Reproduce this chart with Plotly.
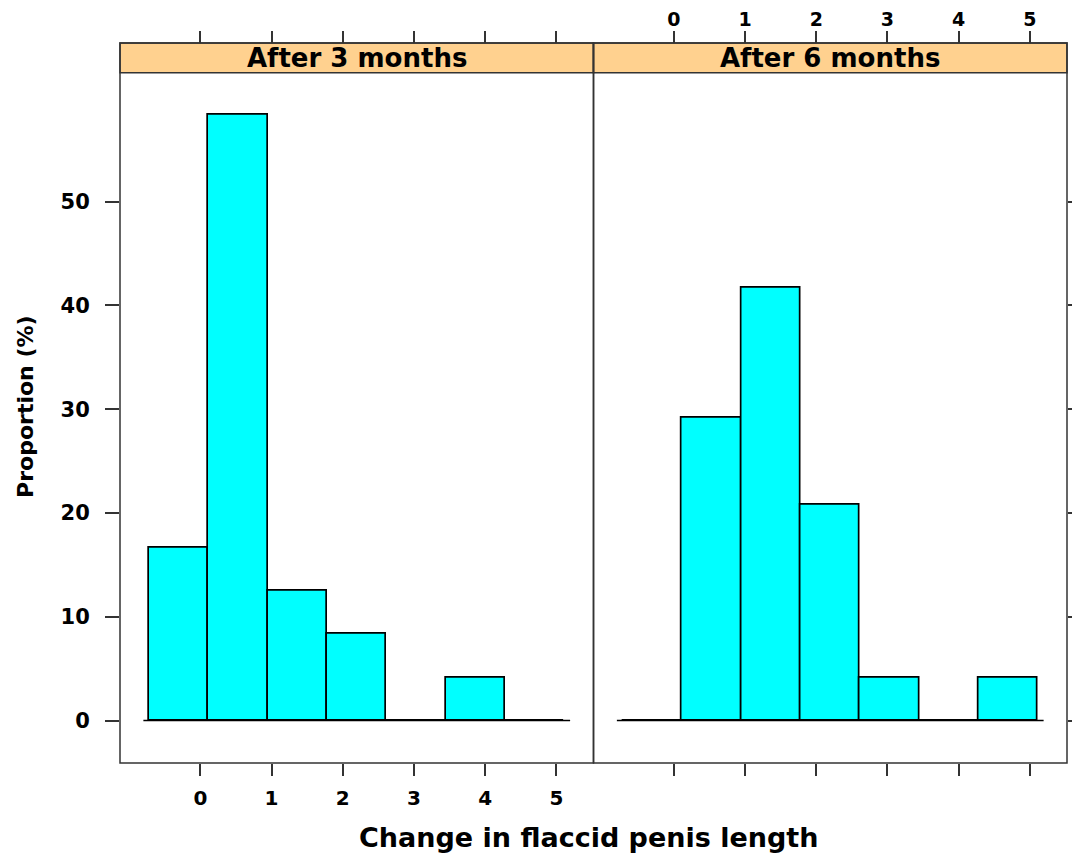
import plotly.graph_objects as go

# ---- data ----
panel_titles = ["After 3 months", "After 6 months"]
bin_edges = [-0.72, 0.113, 0.947, 1.78, 2.613, 3.447, 4.28, 5.113]
pct_3m = [16.67, 58.33, 12.5, 8.33, 0.0, 4.17, 0.0]
pct_6m = [0.0, 29.17, 41.67, 20.83, 4.17, 0.0, 4.17]
x_ticks = [0, 1, 2, 3, 4, 5]
y_ticks = [0, 10, 20, 30, 40, 50]
x_title = "Change in flaccid penis length"
y_title = "Proportion (%)"

# ---- styles ----
FONT = "DejaVu Sans"
BAR_FILL = "#00FFFF"
STRIP_FILL = "#FFD18F"
FRAME = "#333333"
# the page body adds an 8px offset, so the figure is 8px smaller
W, H = 1072, 847
ML, MR, MT, MB = 112, 13, 35, 92
PANEL_TOP = 0.9588     # top of panels (strip sits above)
BASE_PAD = 0.08

centers = [(a + b) / 2 for a, b in zip(bin_edges[:-1], bin_edges[1:])]
widths = [b - a for a, b in zip(bin_edges[:-1], bin_edges[1:])]
span = bin_edges[-1] - bin_edges[0]
x_range = [bin_edges[0] - 0.07 * span, bin_edges[-1] + 0.07 * span]
ymax = max(max(pct_3m), max(pct_6m))
y_range = [-0.07 * ymax, 1.07 * ymax]

fig = go.Figure()
for i, vals in enumerate([pct_3m, pct_6m]):
    xa = "x" if i == 0 else "x2"
    ya = "y" if i == 0 else "y2"
    fig.add_trace(go.Scatter(
        x=[bin_edges[0] - BASE_PAD, bin_edges[-1] + BASE_PAD], y=[0, 0],
        mode="lines", line=dict(color="black", width=1.5),
        xaxis=xa, yaxis=ya, hoverinfo="skip", showlegend=False))
    fig.add_trace(go.Bar(
        x=centers, y=vals, width=widths,
        marker=dict(color=BAR_FILL, line=dict(color="black", width=1.7)),
        xaxis=xa, yaxis=ya, showlegend=False))

# dummy traces so the top axes render
fig.add_trace(go.Scatter(x=[0], y=[0], xaxis="x3", yaxis="y", mode="markers",
                         marker=dict(opacity=0), hoverinfo="skip", showlegend=False))
fig.add_trace(go.Scatter(x=[0], y=[0], xaxis="x4", yaxis="y2", mode="markers",
                         marker=dict(opacity=0), hoverinfo="skip", showlegend=False))

xt_font = dict(family=FONT, size=20, color="black", weight="bold")
xt_top_font = dict(family=FONT, size=19, color="black", weight="bold")
yt_font = dict(family=FONT, size=21, color="black", weight="bold")
common_x = dict(range=x_range, tickvals=x_ticks, ticks="outside", ticklen=12,
                tickwidth=1.5, tickcolor=FRAME, showgrid=False, zeroline=False,
                showline=False, fixedrange=True, automargin=False)

fig.update_layout(
    width=W, height=H,
    margin=dict(l=ML, r=MR, t=MT, b=MB, autoexpand=False),
    paper_bgcolor="white", plot_bgcolor="white",
    barmode="overlay", bargap=0,
    showlegend=False,
    xaxis=dict(domain=[0, 0.5], anchor="y", showticklabels=True,
               ticklabelstandoff=5, tickfont=xt_font, **common_x),
    xaxis2=dict(domain=[0.5, 1], anchor="y2", showticklabels=False,
                tickfont=xt_font, **common_x),
    xaxis3=dict(overlaying="x", anchor="free", position=1, side="top",
                showticklabels=False, tickfont=xt_font, **common_x),
    xaxis4=dict(overlaying="x2", anchor="free", position=1, side="top",
                showticklabels=True, ticklabelstandoff=-3, tickfont=xt_top_font,
                **common_x),
    yaxis=dict(domain=[0, PANEL_TOP], anchor="x", range=y_range, tickvals=y_ticks,
               ticks="outside", ticklen=14, tickwidth=1.5, tickcolor=FRAME,
               showgrid=False, zeroline=False, showline=False, tickfont=yt_font,
               ticklabelstandoff=11, fixedrange=True, automargin=False),
    yaxis2=dict(domain=[0, PANEL_TOP], anchor="x2", range=y_range, tickvals=y_ticks,
                side="right", ticks="outside", ticklen=14, tickwidth=1.5,
                tickcolor=FRAME, showticklabels=False, showgrid=False,
                zeroline=False, showline=False, fixedrange=True, automargin=False),
)

shapes = []
annotations = []
for i, title in enumerate(panel_titles):
    x0, x1 = (0, 0.5) if i == 0 else (0.5, 1)
    shapes.append(dict(type="rect", xref="paper", yref="paper", x0=x0, x1=x1,
                       y0=PANEL_TOP, y1=1, fillcolor=STRIP_FILL,
                       line=dict(color=FRAME, width=1.5), layer="below"))
    shapes.append(dict(type="rect", xref="paper", yref="paper", x0=x0, x1=x1,
                       y0=0, y1=1, fillcolor="rgba(0,0,0,0)",
                       line=dict(color=FRAME, width=1.5), layer="above"))
    annotations.append(dict(text="<b>%s</b>" % title, xref="paper", yref="paper",
                            x=(x0 + x1) / 2, y=(PANEL_TOP + 1) / 2,
                            xanchor="center", yanchor="middle", showarrow=False,
                            font=dict(family=FONT, size=26, color="black")))

annotations.append(dict(text="<b>%s</b>" % x_title, xref="paper", yref="paper",
                        x=0.4942, y=-0.103, xanchor="center", yanchor="middle",
                        showarrow=False,
                        font=dict(family=FONT, size=27, color="black")))
annotations.append(dict(text="<b>%s</b>" % y_title, xref="paper", yref="paper",
                        x=-0.1, y=0.495, xanchor="center", yanchor="middle",
                        textangle=-90, showarrow=False,
                        font=dict(family=FONT, size=22, color="black")))

fig.update_layout(shapes=shapes, annotations=annotations)
fig.write_html("out.html")
